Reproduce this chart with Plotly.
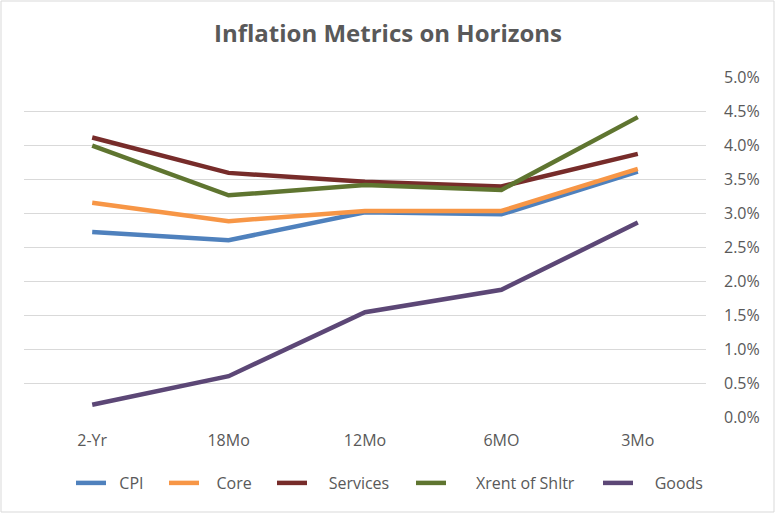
import plotly.graph_objects as go

categories = ["2-Yr", "18Mo", "12Mo", "6MO", "3Mo"]
cpi = [2.72, 2.60, 3.01, 2.98, 3.61]
core = [3.15, 2.88, 3.03, 3.03, 3.65]
services = [4.11, 3.59, 3.46, 3.39, 3.87]
xrent = [3.99, 3.26, 3.41, 3.34, 4.41]
goods = [0.18, 0.60, 1.54, 1.87, 2.86]

names = ["CPI", "Core", "Services", "Xrent of Shltr", "Goods"]
colors = ["#4F81BD", "#F79646", "#772C2A", "#5F7530", "#5C4776"]
values = [cpi, core, services, xrent, goods]

# legend layout (pixels): where each entry's line sample starts, and leading padding
legend_x_px = [76, 169, 277, 416, 603]
legend_pad = [2, 3, 4, 6, 4]

W, H = 776, 514
ml, mr, mt, mb = 24, 70, 77, 97
pw = W - ml - mr
ph = H - mt - mb

fig = go.Figure()
layout_legends = {}
for i, (name, vals, color) in enumerate(zip(names, values, colors)):
    lid = "legend" if i == 0 else f"legend{i + 1}"
    fig.add_trace(go.Scatter(
        x=categories, y=[v / 100 for v in vals],
        name="\u00a0" * legend_pad[i] + name, mode="lines",
        line=dict(color=color, width=4.5), legend=lid,
    ))
    layout_legends[lid] = dict(
        orientation="h", x=(legend_x_px[i] - 5 - ml) / pw, xanchor="left",
        y=-(483 - (H - mb)) / ph, yanchor="middle",
        font=dict(size=16, color="#595959"), bgcolor="rgba(0,0,0,0)",
        itemwidth=30,
    )

fig.add_shape(type="rect", xref="paper", yref="paper",
              x0=(1 - ml) / pw, x1=(W - 2 - ml) / pw,
              y0=-(mb - 2) / ph, y1=1 + (mt - 1) / ph,
              line=dict(color="#D9D9D9", width=1), layer="below")

fig.update_layout(
    width=W, height=H,
    margin=dict(l=ml, r=mr, t=mt, b=mb),
    paper_bgcolor="white", plot_bgcolor="white",
    font=dict(family="Open Sans, sans-serif", color="#595959", size=16),
    title=dict(text="<b>Inflation Metrics on Horizons</b>", x=0.5, xref="container",
               xanchor="center", y=1 - 34 / H, yanchor="middle",
               font=dict(size=24, color="#595959", family="Open Sans, sans-serif")),
    xaxis=dict(type="category", range=[-0.5, 4.5], showgrid=False, showline=False,
               ticks="", tickfont=dict(size=16, color="#595959"), ticklabelstandoff=12),
    yaxis=dict(side="right", range=[0, 0.05], dtick=0.005, tickformat=".1%",
               showgrid=True, gridcolor="#D9D9D9", gridwidth=1, zeroline=False,
               showline=False, ticks="", tickfont=dict(size=16, color="#595959"),
               ticklabelstandoff=17),
    showlegend=True,
    **layout_legends,
)

fig.write_html("out.html", config={"displayModeBar": False},
               post_script="document.body.style.margin='0';")
